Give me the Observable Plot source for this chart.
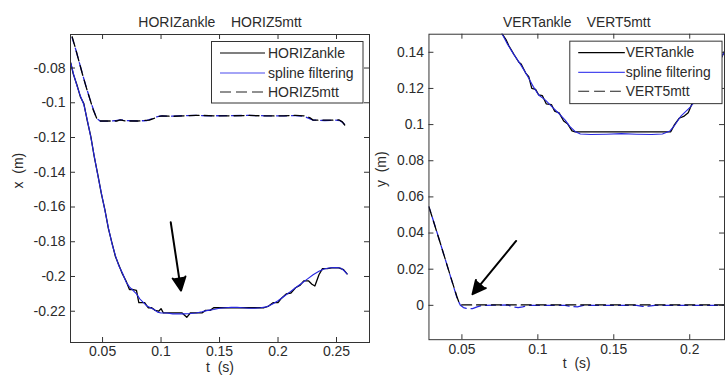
<!DOCTYPE html>
<html>
<head>
<meta charset="utf-8">
<script src="https://cdn.jsdelivr.net/npm/d3@7"></script>
<script src="https://cdn.jsdelivr.net/npm/@observablehq/plot@0.6"></script>
<style>
  html, body { margin: 0; padding: 0; background: #fff; }
  #fig { position: relative; width: 726px; height: 380px; overflow: hidden; background: #fff; }
  #left { position: absolute; left: 0; top: 0; width: 372px; height: 380px; overflow: hidden; }
  #right { position: absolute; left: 363px; top: 0; width: 363px; height: 380px; overflow: hidden; }
</style>
</head>
<body>
<div id="fig"><div id="left"></div><div id="right"></div></div>
<script>
// ---------- Horizontal panel: ankle and 5th metatarsal x (m) versus t (s) ----------
const horizTitle = "HORIZankle\u00a0\u00a0\u00a0\u00a0HORIZ5mtt";
const horizLegend = ["HORIZankle", "spline filtering", "HORIZ5mtt"];
const horizXTicks = [0.05, 0.1, 0.15, 0.2, 0.25];
const horizYTicks = [-0.08, -0.1, -0.12, -0.14, -0.16, -0.18, -0.2, -0.22];

const horizAnkleT = [0.0228, 0.025, 0.028, 0.031, 0.034, 0.037, 0.040, 0.043, 0.046, 0.049, 0.052, 0.055, 0.058, 0.061, 0.064, 0.067, 0.070, 0.073, 0.076, 0.079, 0.081, 0.083, 0.086, 0.089, 0.092, 0.095, 0.098, 0.100, 0.102, 0.110, 0.118, 0.122, 0.125, 0.135, 0.138, 0.142, 0.145, 0.160, 0.175, 0.188, 0.192, 0.196, 0.200, 0.203, 0.207, 0.211, 0.215, 0.219, 0.222, 0.226, 0.229, 0.2315, 0.235, 0.238, 0.242, 0.246, 0.252, 0.256, 0.259];
const horizAnkleX = [-0.077, -0.0835, -0.0895, -0.0965, -0.1005, -0.1105, -0.1195, -0.1315, -0.1415, -0.1525, -0.1615, -0.1725, -0.1805, -0.1885, -0.1935, -0.1985, -0.2025, -0.2075, -0.2075, -0.208, -0.215, -0.215, -0.215, -0.218, -0.218, -0.2195, -0.22, -0.2185, -0.221, -0.221, -0.221, -0.2235, -0.221, -0.221, -0.2195, -0.2195, -0.218, -0.218, -0.218, -0.218, -0.217, -0.215, -0.215, -0.2125, -0.21, -0.2095, -0.2065, -0.205, -0.2025, -0.2025, -0.2045, -0.2055, -0.199, -0.1955, -0.1955, -0.195, -0.195, -0.196, -0.1985];

const horizAnkleSplineT = [0.0228, 0.025, 0.028, 0.031, 0.034, 0.037, 0.040, 0.043, 0.046, 0.049, 0.052, 0.055, 0.058, 0.061, 0.064, 0.067, 0.070, 0.073, 0.076, 0.079, 0.082, 0.085, 0.088, 0.091, 0.094, 0.097, 0.100, 0.105, 0.110, 0.115, 0.120, 0.125, 0.130, 0.135, 0.140, 0.145, 0.150, 0.155, 0.160, 0.165, 0.170, 0.175, 0.180, 0.185, 0.190, 0.195, 0.200, 0.205, 0.210, 0.215, 0.220, 0.225, 0.230, 0.235, 0.240, 0.245, 0.250, 0.254, 0.257, 0.259];
const horizAnkleSplineX = [-0.077, -0.083, -0.09, -0.096, -0.101, -0.11, -0.12, -0.131, -0.142, -0.152, -0.162, -0.172, -0.181, -0.188, -0.194, -0.198, -0.203, -0.206, -0.208, -0.21, -0.213, -0.215, -0.217, -0.218, -0.219, -0.2205, -0.221, -0.221, -0.2215, -0.2215, -0.2215, -0.2213, -0.221, -0.2203, -0.2195, -0.219, -0.2183, -0.218, -0.2178, -0.2178, -0.218, -0.2183, -0.2183, -0.218, -0.2175, -0.216, -0.214, -0.2115, -0.209, -0.2065, -0.204, -0.2015, -0.199, -0.197, -0.1955, -0.195, -0.1948, -0.1953, -0.197, -0.1985];

const horiz5mttT = [0.024, 0.027, 0.030, 0.033, 0.036, 0.039, 0.042, 0.045, 0.047, 0.055, 0.062, 0.065, 0.070, 0.080, 0.090, 0.094, 0.097, 0.101, 0.110, 0.120, 0.130, 0.145, 0.160, 0.175, 0.190, 0.205, 0.215, 0.222, 0.227, 0.230, 0.240, 0.249, 0.252, 0.255, 0.257];
const horiz5mttX = [-0.062, -0.069, -0.0765, -0.084, -0.091, -0.0975, -0.104, -0.109, -0.1105, -0.1105, -0.1105, -0.1098, -0.1105, -0.1105, -0.11, -0.109, -0.108, -0.1075, -0.1078, -0.1075, -0.1072, -0.1075, -0.1075, -0.1073, -0.1076, -0.1075, -0.1072, -0.1075, -0.1085, -0.11, -0.11, -0.11, -0.1098, -0.111, -0.1128];

const horiz5mttSplineT = [0.024, 0.027, 0.030, 0.033, 0.036, 0.039, 0.042, 0.044, 0.046, 0.048, 0.055, 0.062, 0.066, 0.070, 0.080, 0.088, 0.092, 0.096, 0.100, 0.110, 0.120, 0.130, 0.145, 0.160, 0.175, 0.190, 0.205, 0.215, 0.222, 0.226, 0.230, 0.240, 0.249, 0.253, 0.255, 0.257];
const horiz5mttSplineX = [-0.0625, -0.0692, -0.0765, -0.0838, -0.0908, -0.0975, -0.1035, -0.1072, -0.1095, -0.1105, -0.1106, -0.1102, -0.1098, -0.1103, -0.1105, -0.1102, -0.1093, -0.1081, -0.1076, -0.1077, -0.1074, -0.1073, -0.1075, -0.1074, -0.1073, -0.1075, -0.1075, -0.1074, -0.1078, -0.1088, -0.11, -0.1102, -0.11, -0.1103, -0.1112, -0.1126];

const horizArrow = [{t1: 0.1083, v1: -0.1688, t2: 0.1171, v2: -0.2081}];

// ---------- Vertical panel: ankle and 5th metatarsal y (m) versus t (s) ----------
const vertTitle = "VERTankle\u00a0\u00a0\u00a0\u00a0VERT5mtt";
const vertLegend = ["VERTankle", "spline filtering", "VERT5mtt"];
const vertXTicks = [0.05, 0.1, 0.15, 0.2];
const vertYTicks = [0, 0.02, 0.04, 0.06, 0.08, 0.1, 0.12, 0.14];

const vertAnkleT = [0.0745, 0.0766, 0.079, 0.081, 0.0845, 0.0875, 0.089, 0.092, 0.094, 0.096, 0.0985, 0.1005, 0.103, 0.1055, 0.109, 0.111, 0.114, 0.117, 0.1195, 0.1225, 0.1245, 0.150, 0.170, 0.1875, 0.190, 0.193, 0.196, 0.199, 0.2015, 0.204, 0.207, 0.211, 0.215, 0.220, 0.224];
const vertAnkleY = [0.1545, 0.15, 0.147, 0.1435, 0.1385, 0.1345, 0.1335, 0.1285, 0.1265, 0.12, 0.1195, 0.1165, 0.116, 0.1115, 0.111, 0.1075, 0.1065, 0.102, 0.1005, 0.0965, 0.096, 0.096, 0.096, 0.096, 0.1, 0.1035, 0.1045, 0.1065, 0.1115, 0.1125, 0.1175, 0.1225, 0.1285, 0.1355, 0.1425];

const vertAnkleSplineT = [0.0745, 0.0766, 0.080, 0.084, 0.0875, 0.091, 0.094, 0.097, 0.1005, 0.105, 0.1092, 0.114, 0.118, 0.121, 0.1245, 0.128, 0.135, 0.145, 0.155, 0.165, 0.175, 0.182, 0.187, 0.190, 0.194, 0.2007, 0.205, 0.210, 0.215, 0.220, 0.224];
const vertAnkleSplineY = [0.1545, 0.15, 0.1445, 0.139, 0.1347, 0.13, 0.1256, 0.121, 0.1164, 0.1135, 0.11, 0.106, 0.1025, 0.099, 0.0962, 0.0948, 0.0945, 0.0947, 0.095, 0.0947, 0.0945, 0.0948, 0.0965, 0.0995, 0.1045, 0.11, 0.1145, 0.121, 0.128, 0.136, 0.142];

const vert5mttT = [0.0283, 0.032, 0.036, 0.040, 0.044, 0.047, 0.0485, 0.050, 0.2235];
const vert5mttY = [0.0545, 0.0445, 0.0338, 0.0228, 0.012, 0.004, 0.0008, 0.0002, 0.0002];

const vert5mttSplineT = [0.0283, 0.032, 0.036, 0.040, 0.044, 0.047, 0.049, 0.051, 0.054, 0.057, 0.060, 0.064, 0.080, 0.084, 0.087, 0.090, 0.094, 0.118, 0.122, 0.126, 0.130, 0.165, 0.169, 0.173, 0.177, 0.2235];
const vert5mttSplineY = [0.0545, 0.0447, 0.0338, 0.0228, 0.0118, 0.0035, 0.0, -0.0012, -0.0019, -0.0018, -0.0008, 0.0, 0.0002, -0.0008, -0.0013, -0.0008, 0.0, 0.0, -0.0007, -0.0008, 0.0, 0.0, -0.0006, -0.0004, 0.0, 0.0];

const vertArrow = [{t1: 0.0857, v1: 0.0356, t2: 0.057, v2: 0.0062}];

// ---------- drawing ----------
const FONT = "'Liberation Sans', Arial, Helvetica, sans-serif";
const INK = "#2b2b2b";
const BLUE = "#2626e0";
const H = 380, MT = 34, MB = 38, TICK = 5;
const fmt = d => String(+d.toFixed(2));
const rows = (T, V) => T.map((t, i) => ({t, v: V[i]}));

function panel(o) {
  const frameH = H - MT - MB;
  const frameW = o.width - o.marginLeft - o.marginRight;
  const svg = Plot.plot({
    width: o.width,
    height: H,
    marginLeft: o.marginLeft,
    marginRight: o.marginRight,
    marginTop: MT,
    marginBottom: MB,
    style: {fontFamily: FONT, fontSize: "14px", color: INK, background: "transparent", overflow: "visible"},
    x: {domain: o.xDomain},
    y: {domain: o.yDomain},
    marks: [
      // measured traces (black) with their spline fits (blue)
      Plot.line(rows(o.ankleT, o.ankleV), {x: "t", y: "v", stroke: "#000", strokeWidth: 1.3, clip: true}),
      Plot.line(rows(o.ankleSplineT, o.ankleSplineV), {x: "t", y: "v", stroke: BLUE, strokeWidth: 1.1, clip: true}),
      Plot.line(rows(o.mttSplineT, o.mttSplineV), {x: "t", y: "v", stroke: BLUE, strokeWidth: 1.3, strokeDasharray: "10,5", strokeDashoffset: 4, clip: true}),
      Plot.line(rows(o.mttT, o.mttV), {x: "t", y: "v", stroke: "#000", strokeWidth: 1.3, strokeDasharray: "10,5", clip: true}),
      // annotation arrow
      Plot.arrow(o.arrow, {x1: "t1", y1: "v1", x2: "t2", y2: "v2", stroke: "#000", fill: "#000", strokeWidth: 2, headLength: 11, headAngle: 52}),
      // axes box with inward ticks on all four sides
      Plot.frame({stroke: "#333", strokeWidth: 1}),
      Plot.tickX(o.xTicks, {x: d => d, insetTop: frameH - TICK, stroke: "#333"}),
      Plot.tickX(o.xTicks, {x: d => d, insetBottom: frameH - TICK, stroke: "#333"}),
      Plot.tickY(o.yTicks, {y: d => d, insetRight: frameW - TICK, stroke: "#333"}),
      Plot.tickY(o.yTicks, {y: d => d, insetLeft: frameW - TICK, stroke: "#333"}),
      Plot.axisX({ticks: o.xTicks, tickSize: 0, tickPadding: 4, tickFormat: fmt, label: null, fill: INK}),
      Plot.axisY({ticks: o.yTicks, tickSize: 0, tickPadding: 5, tickFormat: fmt, label: null, fill: INK}),
      // title and axis labels
      Plot.text([o.title], {text: d => d, frameAnchor: "top", dy: -17, fontSize: 14, fill: INK}),
      Plot.text(["t\u00a0\u00a0(s)"], {text: d => d, frameAnchor: "bottom", dy: 29, fontSize: 14, fill: INK}),
      Plot.text([o.yLabel], {text: d => d, frameAnchor: "left", dx: o.yLabelDx, rotate: -90, fontSize: 14, fill: INK})
    ]
  });

  // legend box in the upper right of the axes
  const L = o.legend;
  const g = d3.select(svg).append("g")
    .attr("font-family", FONT).attr("font-size", 14).attr("text-anchor", "start");
  g.append("rect").attr("x", L.x).attr("y", L.y).attr("width", L.w).attr("height", L.h)
    .attr("fill", "#fff").attr("stroke", "#333").attr("stroke-width", 1);
  const styles = [
    {stroke: "#000", dash: null},
    {stroke: "#4a4aee", dash: null},
    {stroke: "#222", dash: "11,5"}
  ];
  L.rowsY.forEach((ry, i) => {
    g.append("line").attr("x1", L.lineX1).attr("x2", L.lineX2).attr("y1", ry).attr("y2", ry)
      .attr("stroke", styles[i].stroke).attr("stroke-width", 1.2)
      .attr("stroke-dasharray", styles[i].dash);
    g.append("text").attr("x", L.textX).attr("y", ry).attr("dy", "0.35em")
      .attr("text-anchor", "start").attr("fill", INK).text(o.legendLabels[i]);
  });
  return svg;
}

document.getElementById("left").append(panel({
  width: 372, marginLeft: 70, marginRight: 3,
  xDomain: [0.0226, 0.2782], yDomain: [-0.238, -0.0607],
  xTicks: horizXTicks, yTicks: horizYTicks,
  title: horizTitle, yLabel: "x\u00a0\u00a0(m)", yLabelDx: -52,
  ankleT: horizAnkleT, ankleV: horizAnkleX,
  ankleSplineT: horizAnkleSplineT, ankleSplineV: horizAnkleSplineX,
  mttT: horiz5mttT, mttV: horiz5mttX,
  mttSplineT: horiz5mttSplineT, mttSplineV: horiz5mttSplineX,
  arrow: horizArrow,
  legendLabels: horizLegend,
  legend: {x: 211.5, y: 41.5, w: 151.5, h: 61.5, lineX1: 220, lineX2: 265, textX: 268, rowsY: [53, 73, 92]}
}));

document.getElementById("right").append(panel({
  width: 366, marginLeft: 66, marginRight: 2,
  xDomain: [0.0283, 0.2229], yDomain: [-0.019, 0.15],
  xTicks: vertXTicks, yTicks: vertYTicks,
  title: vertTitle, yLabel: "y\u00a0\u00a0(m)", yLabelDx: -48,
  ankleT: vertAnkleT, ankleV: vertAnkleY,
  ankleSplineT: vertAnkleSplineT, ankleSplineV: vertAnkleSplineY,
  mttT: vert5mttT, mttV: vert5mttY,
  mttSplineT: vert5mttSplineT, mttSplineV: vert5mttSplineY,
  arrow: vertArrow,
  legendLabels: vertLegend,
  legend: {x: 208.5, y: 41.5, w: 153.5, h: 63, lineX1: 217, lineX2: 264, textX: 265, rowsY: [53, 73, 92]}
}));
</script>
</body>
</html>
